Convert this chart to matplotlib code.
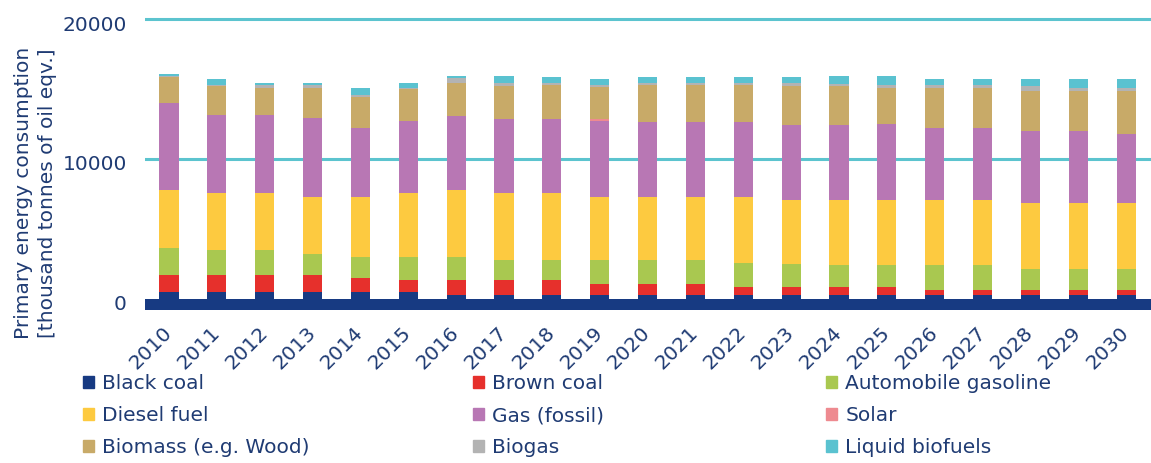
import numpy as np
import matplotlib.pyplot as plt
import matplotlib.patches as mpatches
import matplotlib.transforms as mtransforms

# data (thousand tonnes of oil eqv.)
years = [str(y) for y in range(2010, 2031)]
black_coal = [480, 480, 480, 480, 470, 470, 250, 250, 250, 250, 250, 250, 250, 250, 250, 250, 250, 250, 250, 250, 260]
brown_coal = [1245, 1245, 1245, 1245, 1016, 850, 1070, 1070, 1070, 830, 830, 830, 590, 590, 590, 590, 400, 400, 400, 400, 390]
gasoline = [1910, 1740, 1740, 1500, 1500, 1670, 1670, 1430, 1430, 1670, 1670, 1670, 1740, 1670, 1550, 1550, 1740, 1740, 1500, 1500, 1500]
diesel = [4130, 4060, 4060, 4060, 4300, 4540, 4775, 4780, 4780, 4540, 4540, 4540, 4700, 4540, 4655, 4655, 4655, 4655, 4700, 4700, 4700]
gas = [6200, 5600, 5600, 5600, 4940, 5180, 5320, 5320, 5320, 5415, 5370, 5370, 5370, 5370, 5370, 5415, 5180, 5180, 5150, 5150, 4960]
solar = [0, 0, 0, 0, 0, 0, 0, 0, 0, 140, 0, 0, 0, 0, 0, 0, 0, 0, 0, 0, 0]
biomass = [1910, 2080, 1910, 2150, 2170, 2290, 2360, 2360, 2435, 2295, 2625, 2625, 2625, 2790, 2790, 2580, 2815, 2815, 2840, 2840, 3030]
biogas = [50, 70, 240, 240, 170, 100, 310, 190, 165, 165, 165, 165, 165, 240, 140, 240, 240, 240, 360, 190, 190]
liquid_biofuels = [140, 400, 170, 170, 480, 350, 170, 520, 430, 430, 430, 430, 430, 430, 575, 645, 405, 405, 480, 645, 645]

labels = ['Black coal', 'Brown coal', 'Automobile gasoline', 'Diesel fuel', 'Gas (fossil)',
          'Solar', 'Biomass (e.g. Wood)', 'Biogas', 'Liquid biofuels']
series = [black_coal, brown_coal, gasoline, diesel, gas, solar, biomass, biogas, liquid_biofuels]
colors = ['#173a82', '#e6302c', '#a9c850', '#fdca40', '#b877b4', '#ee8a90', '#c8aa68', '#b3b3b3', '#5ac2d0']

navy = '#1f3b73'
plt.rcParams['font.family'] = 'DejaVu Sans'
plt.rcParams['font.size'] = 14.5

fig = plt.figure(figsize=(11.51, 4.63), dpi=100)
ax = fig.add_axes([145/1151, (463-310.4)/463, (1151-145)/1151, 298.4/463])

x = np.arange(len(years))
bottom = np.zeros(len(years))
for vals, col, lab in zip(series, colors, labels):
    ax.bar(x, vals, width=0.40, bottom=bottom, color=col, label=lab, zorder=3)
    bottom += np.array(vals)

ax.set_xlim(-0.5, 20.52)
ax.set_ylim(-840, 20500)
ax.axhspan(-840, 0, color=colors[0], zorder=4, lw=0)

yticks = [0, 10000, 20000]
ax.set_yticks(yticks)
ax.set_yticklabels([str(v) for v in yticks], color=navy)
for v in yticks[1:]:
    ax.axhline(v, color='#5cc4cf', linewidth=2.2, zorder=0)
ax.tick_params(axis='y', length=0, pad=13)
# labels sit a little below their gridlines in the original
shift = mtransforms.ScaledTranslation(0, -3/72, fig.dpi_scale_trans)
for lbl in ax.get_yticklabels():
    lbl.set_transform(lbl.get_transform() + shift)

ax.set_xticks(x)
ax.set_xticklabels(years, rotation=45, ha='right', va='center', rotation_mode='anchor', color=navy)
ax.tick_params(axis='x', length=0, pad=14)

for s in ax.spines.values():
    s.set_visible(False)

fig.text(0.031, 0.583, 'Primary energy consumption\n[thousand tonnes of oil eqv.]',
         rotation=90, ha='center', va='center', color=navy, linespacing=1.35)

# legend laid out in rows like the original, one legend per column
handles = [mpatches.Patch(color=c, label=l) for c, l in zip(colors, labels)]
col_x = [83, 473, 826]
for j in range(3):
    leg = fig.legend(handles=handles[j::3], loc='upper left',
                     bbox_to_anchor=(col_x[j]/1151, 1 - 374/463), frameon=False,
                     borderpad=0, borderaxespad=0, handlelength=0.55, handleheight=0.6,
                     handletextpad=0.4, labelspacing=0.65)
    for t in leg.get_texts():
        t.set_color(navy)

fig.savefig('out.png', dpi=100)
